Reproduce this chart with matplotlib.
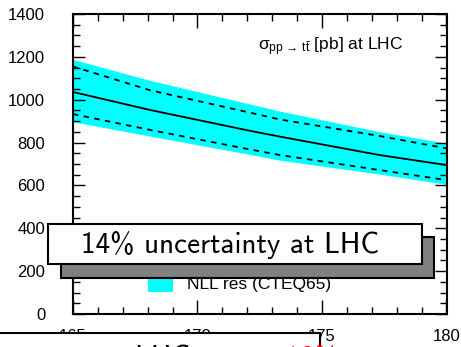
#!/usr/bin/env python
# -*- coding: utf-8 -*-
import numpy as np
import matplotlib
matplotlib.use('Agg')
import matplotlib.pyplot as plt
from matplotlib.patches import Rectangle
from matplotlib.ticker import MultipleLocator

# top mass [GeV] and cross sections [pb]
mt = [165.0, 168.1, 172.1, 173.3, 177.3, 180.0]
sigma_central = [1036, 952, 855, 828, 742, 695]
band_hi = [1188, 1090, 980, 947, 851, 797]
band_lo = [897, 830, 745, 718, 653, 605]
dash_hi = [1155, 1044, 940, 908, 831, 773]
dash_lo = [933, 859, 768, 742, 672, 625]

xticks = [165, 170, 175, 180]
yticks = [0, 200, 400, 600, 800, 1000, 1200, 1400]

plt.rcParams['font.family'] = ['Liberation Sans', 'DejaVu Sans']
plt.rcParams['mathtext.fontset'] = 'custom'
plt.rcParams['mathtext.rm'] = 'Liberation Sans'
plt.rcParams['mathtext.it'] = 'Liberation Sans'
plt.rcParams['mathtext.sf'] = 'Liberation Sans'

W, H = 461, 347
fig = plt.figure(figsize=(W / 100, H / 100), dpi=100)
ax = fig.add_axes([73 / W, 1 - 314 / H, (446.5 - 73) / W, 300 / H])

band = ax.fill_between(mt, band_lo, band_hi, color='cyan', lw=0,
                       label='NLL res (CTEQ65)')
ax.plot(mt, sigma_central, color='black', lw=1.3)
ax.plot(mt, dash_hi, color='black', lw=1.3, ls=(0, (3, 3)))
ax.plot(mt, dash_lo, color='black', lw=1.3, ls=(0, (3, 3)))

ax.set_xlim(165, 180)
ax.set_ylim(0, 1400)
ax.set_xticks(xticks)
ax.set_yticks(yticks)
ax.xaxis.set_minor_locator(MultipleLocator(1))
ax.yaxis.set_minor_locator(MultipleLocator(50))
ax.tick_params(which='both', direction='in', top=True, right=True,
               width=1.0, labelsize=12)
ax.tick_params(axis='x', which='major', length=10, pad=11)
ax.tick_params(axis='y', which='major', length=8.5, pad=20)
ax.tick_params(which='minor', length=5)
for s in ax.spines.values():
    s.set_linewidth(1.5)

ax.text((258 - 73) / 373.5, 1 - (47 - 14) / 300,
        r'$\sigma_{pp\,\rightarrow\,t\bar{t}}$ [pb] at LHC',
        transform=ax.transAxes, fontsize=12.5, va='center', ha='left')

ax.legend(handles=[band], loc='center left',
          bbox_to_anchor=(148 / W, 1 - 283 / H), bbox_transform=fig.transFigure,
          frameon=False, borderpad=0, borderaxespad=0, fontsize=12.5,
          handlelength=1.45, handleheight=1.3, handletextpad=0.8)

# boxed caption with drop shadow
fig.patches.append(Rectangle((61 / W, 1 - 278 / H), (434 - 61) / W, (278 - 237) / H,
                             transform=fig.transFigure, facecolor='#808080',
                             edgecolor='black', lw=1.5, zorder=10))
fig.patches.append(Rectangle((48 / W, 1 - 264 / H), (422 - 48) / W, (264 - 224) / H,
                             transform=fig.transFigure, facecolor='white',
                             edgecolor='black', lw=1.5, zorder=11))
fig.text(230 / W, 1 - 245 / H, '14% uncertainty at LHC',
         family=['cmss10', 'DejaVu Sans'], fontsize=21,
         ha='center', va='center', zorder=12)

# second caption box along the bottom edge, mostly below the frame
fig.patches.append(Rectangle((-5 / W, 1 - 370 / H), 325 / W, (370 - 333) / H,
                             transform=fig.transFigure, facecolor='white',
                             edgecolor='black', lw=1.5, zorder=10))
fig.text(198 / W, 1 - 367 / H, 'at LHC:', family=['cmss10', 'DejaVu Sans'],
         fontsize=21, ha='right', va='baseline', zorder=12)
fig.text(205 / W, 1 - 367 / H, r'$\Delta\sigma$ = 10%', family=['cmss10', 'DejaVu Sans'],
         fontsize=21, ha='left', va='baseline', color='red', zorder=12)

fig.savefig('out.png', dpi=100)
